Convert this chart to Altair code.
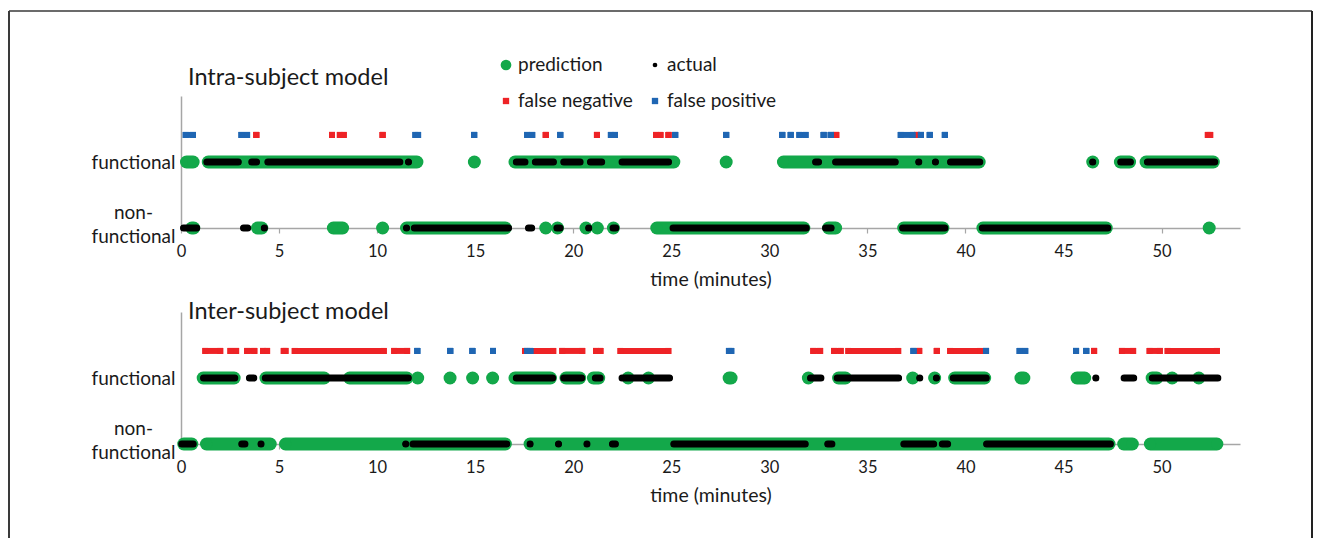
import altair as alt
import pandas as pd

# ---------------- data (minutes; (start, end) of each run of samples) ----------------
ROWS = {"non-functional": 0, "functional": 1, "error": 1.41}

# Intra-subject model
intra_pred_func = [(0.28, 0.62), (1.39, 12.03), (14.96, 14.96), (17.03, 25.13), (27.8, 27.8),
                   (30.72, 40.7), (46.49, 46.49), (47.9, 48.37), (49.21, 52.64)]
intra_act_func = [(1.32, 2.92), (3.61, 3.85), (4.43, 11.16), (11.6, 11.6), (17.1, 17.54),
                  (18.07, 18.99), (19.52, 20.35), (20.88, 21.45), (22.49, 24.86), (32.36, 32.51),
                  (33.38, 36.42), (37.62, 37.62), (38.47, 38.47), (39.24, 40.73), (46.49, 46.49),
                  (47.92, 48.41), (49.28, 52.71)]
intra_pred_non = [(0.55, 0.65), (3.9, 4.12), (7.77, 8.24), (10.28, 10.28), (11.5, 16.54),
                  (18.6, 18.6), (19.2, 19.2), (20.65, 20.65), (21.23, 21.23), (22.05, 22.05),
                  (24.26, 31.76), (33.02, 33.38), (36.85, 38.85), (40.89, 47.18), (52.43, 52.43)]
intra_act_non = [(0.13, 0.8), (3.19, 3.4), (4.25, 4.25), (11.5, 11.5), (11.9, 16.7),
                 (17.72, 17.88), (19.17, 19.33), (20.79, 20.79), (22.03, 22.17), (25.09, 31.88),
                 (32.87, 33.15), (36.8, 38.95), (40.86, 47.26)]
intra_fn = [(3.84, 3.84), (7.7, 7.7), (8.1, 8.3), (10.28, 10.28), (18.6, 18.6), (21.21, 21.21),
            (24.22, 24.45), (24.86, 24.86), (33.41, 33.41), (37.52, 37.52), (52.36, 52.48)]
intra_fp = [(0.24, 0.61), (3.08, 3.37), (11.95, 12.09), (14.95, 14.95), (17.65, 17.91),
            (19.34, 19.34), (21.92, 22.13), (25.2, 25.2), (27.8, 27.8), (30.66, 30.66),
            (31.09, 31.09), (31.53, 31.85), (32.77, 32.77), (33.13, 33.13), (36.7, 37.3),
            (37.73, 37.73), (38.18, 38.18), (38.95, 38.95)]

# Inter-subject model
inter_pred_func = [(1.13, 2.71), (4.33, 7.3), (8.6, 11.52), (12.07, 12.07), (13.72, 13.72),
                   (14.87, 14.87), (15.89, 15.89), (17.03, 18.84), (19.63, 20.33), (21.03, 21.3),
                   (22.8, 22.8), (23.84, 23.84), (27.95, 28.05), (31.99, 31.99), (33.53, 33.88),
                   (37.31, 37.31), (38.43, 38.43), (39.45, 40.98), (42.83, 42.98), (45.69, 46.08),
                   (49.52, 49.76), (50.54, 50.54), (51.9, 51.9)]
inter_act_func = [(1.15, 2.74), (3.49, 3.71), (4.3, 11.59), (17.1, 18.95), (19.52, 20.43),
                  (21.13, 21.37), (22.49, 24.91), (32.1, 32.63), (33.46, 36.59), (37.67, 37.67),
                  (38.52, 38.52), (39.38, 41.06), (46.65, 46.65), (48.09, 48.58), (49.53, 52.87)]
inter_pred_non = [(0.14, 0.55), (1.3, 4.55), (5.33, 16.54), (17.8, 47.32), (48.07, 48.51),
                  (49.43, 52.82)]
inter_act_non = [(0.04, 0.62), (3.1, 3.26), (4.08, 4.08), (11.46, 11.46), (11.83, 16.61),
                 (17.8, 17.8), (19.25, 19.25), (20.7, 20.7), (22.0, 22.15), (25.13, 31.83),
                 (32.98, 33.19), (36.86, 38.38), (38.82, 39.09), (41.08, 47.39)]
inter_fn = [(1.24, 2.0), (2.52, 2.81), (3.37, 3.74), (4.18, 4.39), (5.24, 5.33), (5.8, 10.34),
            (10.87, 11.53), (17.54, 18.98), (19.44, 20.46), (21.16, 21.39), (22.41, 24.85),
            (32.24, 32.59), (33.3, 33.64), (34.03, 36.57), (37.64, 37.64), (38.54, 38.54),
            (39.22, 40.75), (46.56, 46.56), (47.98, 48.55), (49.39, 49.91), (50.31, 52.82)]
inter_fp = [(12.05, 12.05), (13.73, 13.73), (14.86, 14.86), (15.91, 15.91), (17.65, 17.82),
            (27.94, 28.06), (37.35, 37.35), (41.05, 41.05), (42.76, 43.05), (45.64, 45.64),
            (46.16, 46.16)]

x_ticks = [0, 5, 10, 15, 20, 25, 30, 35, 40, 45, 50]
legend_labels = ["prediction", "actual", "false negative", "false positive"]
panel_titles = ["Intra-subject model", "Inter-subject model"]

# ---------------- style ----------------
GREEN = "#13a84a"
BLACK = "#000000"
RED = "#ee2326"
BLUE = "#1f66b3"
AXIS_GREY = "#a6a6a6"
TEXT = "#1a1a1a"
FONT = "Lato"

xscale = alt.Scale(domain=[0, 54], nice=False, zero=False)
yscale = alt.Scale(domain=[0, 2], nice=False)

xaxis = alt.Axis(values=x_ticks, grid=False, domainColor=AXIS_GREY, domainWidth=1.5,
                 tickColor=AXIS_GREY, tickSize=5, tickWidth=1.2, labelFontSize=16.5,
                 labelColor=TEXT, labelPadding=10, labelFlush=False, titleFontSize=19.5,
                 titleFontWeight="normal", titleColor=TEXT, titlePadding=11,
                 title="time (minutes)")
yaxis = alt.Axis(values=[0, 1], grid=False, ticks=False, tickSize=0, domainColor=AXIS_GREY,
                 domainWidth=1.5, labelAlign="center", labelBaseline="middle",
                 labelPadding=48, labelFontSize=19, labelColor=TEXT, labelLineHeight=24,
                 labelOffset={"condition": {"test": "datum.value == 0", "value": -16},
                              "value": 0},
                 labelExpr="datum.value == 1 ? 'functional' : ['non-', 'functional']",
                 title=None)


def runs(intervals, row):
    return pd.DataFrame({"start": [a for a, b in intervals],
                         "end": [b for a, b in intervals],
                         "row": [ROWS[row]] * len(intervals)})


def run_layers(df, color, width, cap, shape, size):
    base = alt.Chart(df)
    line = base.mark_rule(color=color, strokeWidth=width, strokeCap=cap).encode(
        x=alt.X("start:Q", scale=xscale, axis=xaxis),
        x2="end:Q",
        y=alt.Y("row:Q", scale=yscale, axis=yaxis))
    dots = base.transform_fold(["start", "end"], as_=["k", "t"]).mark_point(
        shape=shape, filled=True, opacity=1, size=size, color=color, strokeWidth=0).encode(
        x=alt.X("t:Q", scale=xscale, axis=xaxis),
        y=alt.Y("row:Q", scale=yscale, axis=yaxis))
    return [line, dots]


def panel(pf, af, pn, an, fn, fp, title, top):
    layers = []
    layers += run_layers(pd.concat([runs(pf, "functional"), runs(pn, "non-functional")]),
                         GREEN, 13, "round", "circle", 133)
    layers += run_layers(pd.concat([runs(af, "functional"), runs(an, "non-functional")]),
                         BLACK, 7, "round", "circle", 38)
    layers += run_layers(runs(fn, "error"), RED, 6, "square", "square", 36)
    layers += run_layers(runs(fp, "error"), BLUE, 6, "square", "square", 36)
    layers.append(alt.Chart(pd.DataFrame({"t": [title]})).mark_text(
        align="left", baseline="middle", fontSize=23.5, color=TEXT, font=FONT).encode(
        x=alt.value(7), y=alt.value(-18 if top else 0), text="t:N"))
    if top:
        sym = [(GREEN, "circle", 115, 325, -31), (BLACK, "circle", 22, 474, -31),
               (RED, "square", 40, 325, 5), (BLUE, "square", 40, 474, 5)]
        for lab, (c, sh, sz, px, py) in zip(legend_labels, sym):
            d = pd.DataFrame({"t": [lab]})
            layers.append(alt.Chart(d).mark_point(shape=sh, filled=True, opacity=1, size=sz,
                                                  color=c, strokeWidth=0).encode(
                x=alt.value(px), y=alt.value(py)))
            layers.append(alt.Chart(d).mark_text(align="left", baseline="middle", fontSize=19,
                                                 color=TEXT, font=FONT).encode(
                x=alt.value(px + 12), y=alt.value(py), text="t:N"))
        # figure frame (kept inside the page width)
        fr = pd.DataFrame({"t": [0]})
        layers.append(alt.Chart(fr).mark_rule(color="#6b6b6b", strokeWidth=2).encode(
            x=alt.value(-172), x2=alt.value(1131), y=alt.value(-85)))
        layers.append(alt.Chart(fr).mark_rule(color="#3a3a3a", strokeWidth=2).encode(
            x=alt.value(-172), y=alt.value(-85), y2=alt.value(442)))
        layers.append(alt.Chart(fr).mark_rule(color="#222222", strokeWidth=2).encode(
            x=alt.value(1131), y=alt.value(-85), y2=alt.value(442)))
    return alt.layer(*layers).properties(width=1059, height=132)


top = panel(intra_pred_func, intra_act_func, intra_pred_non, intra_act_non, intra_fn, intra_fp,
            panel_titles[0], True)
bottom = panel(inter_pred_func, inter_act_func, inter_pred_non, inter_act_non, inter_fn, inter_fp,
               panel_titles[1], False)

chart = alt.vconcat(top, bottom, spacing=84, bounds="flush").properties(
    padding={"left": 0, "top": 2, "right": 0, "bottom": 0}
).configure(font=FONT).configure_view(stroke=None).configure_axis(labelFont=FONT,
                                                                   titleFont=FONT)

chart.save("out.html", embed_options={"renderer": "svg", "actions": False})
